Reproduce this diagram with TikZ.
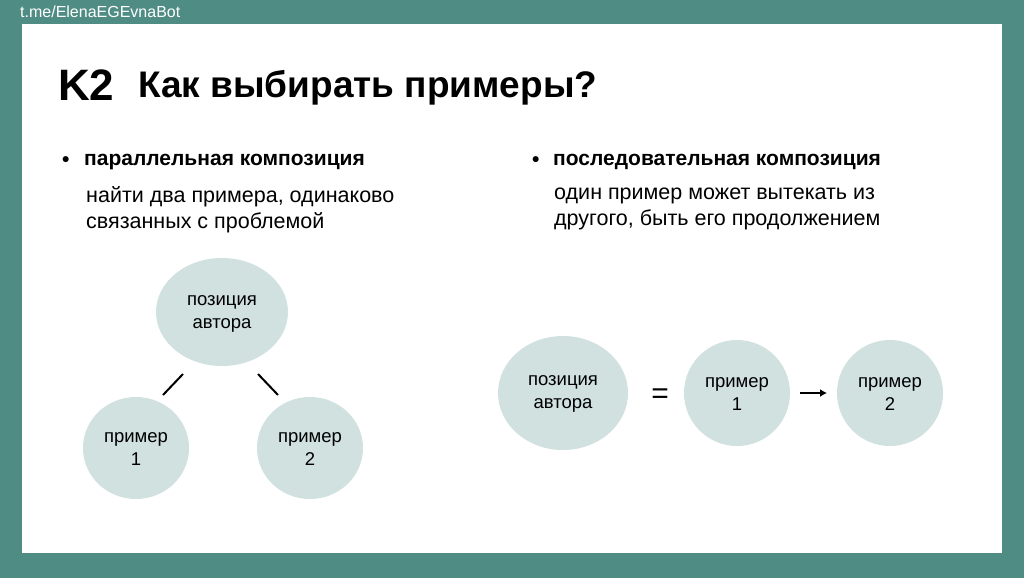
\documentclass[tikz,border=0pt]{standalone}
\usepackage{fontspec}
\setmainfont{Liberation Sans}
\usetikzlibrary{arrows.meta}
\definecolor{teal0}{HTML}{4F8D84}
\definecolor{circ}{HTML}{D0E1DF}
\begin{document}
\begin{tikzpicture}[x=1pt,y=-1pt,
  bubble/.style={inner sep=0pt,font=\fontsize{18.5}{23}\selectfont,align=center},
  body/.style={anchor=west,font=\fontsize{21.5}{26}\selectfont,align=left,inner sep=0pt},
  head/.style={anchor=west,font=\fontsize{21}{24}\selectfont\bfseries,inner sep=0pt},
  conn/.style={line width=2pt,black}]
\useasboundingbox (0,0) rectangle (1024,578);
\fill[teal0] (0,0) rectangle (1024,578);
\fill[white] (22,24) rectangle (1002,553);
\node[anchor=west,text=white,font=\fontsize{16}{18}\selectfont,inner sep=0pt] (url) at (20,12) {t.me/ElenaEGEvnaBot};
\node[anchor=base west,font=\fontsize{44}{50}\selectfont\bfseries,inner sep=0pt] (k2) at (58,100) {K2};
\node[anchor=base west,font=\fontsize{37}{40}\selectfont\bfseries,inner sep=0pt] (title) at (138,97) {Как выбирать примеры?};
\node[head] (b1) at (62,162) {•};
\node[head] (h1) at (84,162) {параллельная композиция};
\node[body] (t1) at (86,210) {найти два примера, одинаково\\связанных с проблемой};
\node[head] (b2) at (532,162) {•};
\node[head] (h2) at (553,162) {последовательная композиция};
\node[body] (t2) at (554,209) {один пример может вытекать из\\другого, быть его продолжением};
% left diagram
\fill[circ] (222,312) ellipse [x radius=66, y radius=54];
\node[bubble] (pa) at (222,314) {позиция\\автора};
\fill[circ] (136,448) ellipse [x radius=53, y radius=51];
\node[bubble] (p1) at (136,449) {пример\\1};
\fill[circ] (310,448) ellipse [x radius=53, y radius=51];
\node[bubble] (p2) at (310,449) {пример\\2};
\coordinate (l1a) at (163,395); \coordinate (l1b) at (183,374);
\coordinate (l2a) at (258,374); \coordinate (l2b) at (278,395);
\draw[conn] (l1a) -- (l1b);
\draw[conn] (l2a) -- (l2b);
% right diagram
\fill[circ] (563,393) ellipse [x radius=65, y radius=57];
\node[bubble] (qa) at (563,394) {позиция\\автора};
\fill[circ] (737,393) ellipse [x radius=53, y radius=53];
\node[bubble] (q1) at (737,394) {пример\\1};
\fill[circ] (890,393) ellipse [x radius=53, y radius=53];
\node[bubble] (q2) at (890,394) {пример\\2};
\node[font=\fontsize{30}{30}\selectfont,inner sep=0pt] (eq) at (660,396) {=};
\coordinate (arS) at (800,393); \coordinate (arE) at (827,393);
\draw[line width=2pt,-{Latex[length=7pt,width=8pt]}] (arS) -- (arE);
\end{tikzpicture}
\end{document}
